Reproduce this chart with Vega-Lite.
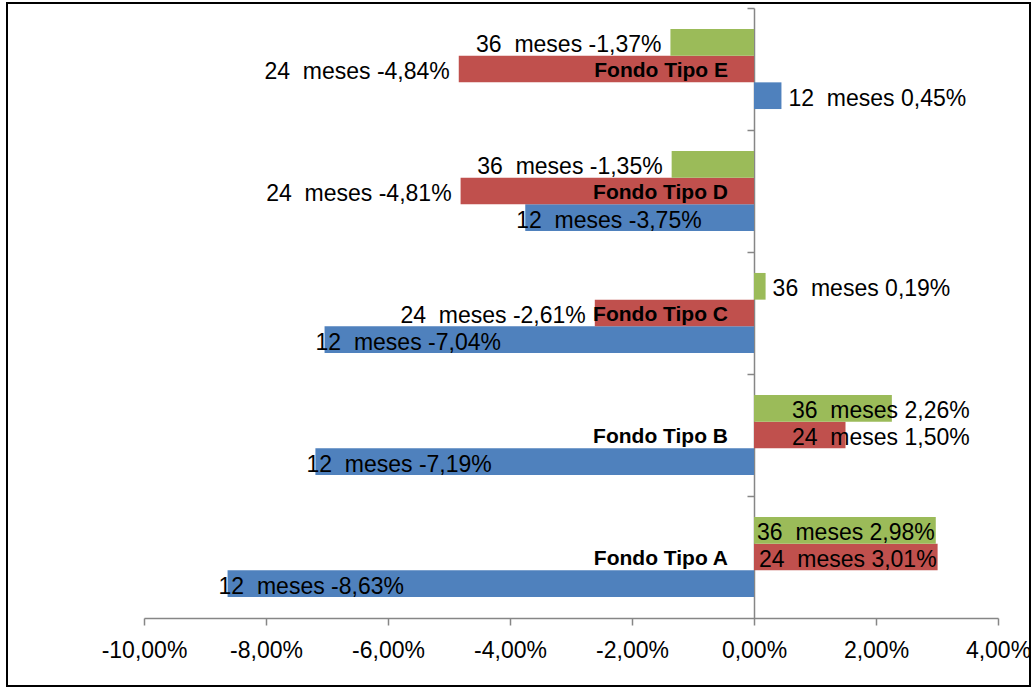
{
  "$schema": "https://vega.github.io/schema/vega-lite/v6.json",
  "width": 1023,
  "height": 683,
  "autosize": "none",
  "padding": {"left": 7, "top": 3, "right": 6, "bottom": 3},
  "background": "white",
  "config": {
    "locale": {"number": {"decimal": ",", "thousands": ".", "grouping": [3], "currency": ["", " €"], "minus": "-"}},
    "view": {"stroke": "#000000", "strokeWidth": 2},
    "font": "Liberation Sans"
  },
  "data": {
    "values": [
      {"fondo": "Fondo Tipo A", "serie": "12 meses", "valor": -0.0863, "etiqueta": "12\u00a0 meses -8,63%"},
      {"fondo": "Fondo Tipo A", "serie": "24 meses", "valor": 0.0301, "etiqueta": "24\u00a0 meses 3,01%"},
      {"fondo": "Fondo Tipo A", "serie": "36 meses", "valor": 0.0298, "etiqueta": "36\u00a0 meses 2,98%"},
      {"fondo": "Fondo Tipo B", "serie": "12 meses", "valor": -0.0719, "etiqueta": "12\u00a0 meses -7,19%"},
      {"fondo": "Fondo Tipo B", "serie": "24 meses", "valor": 0.0150, "etiqueta": "24\u00a0 meses 1,50%"},
      {"fondo": "Fondo Tipo B", "serie": "36 meses", "valor": 0.0226, "etiqueta": "36\u00a0 meses 2,26%"},
      {"fondo": "Fondo Tipo C", "serie": "12 meses", "valor": -0.0704, "etiqueta": "12\u00a0 meses -7,04%"},
      {"fondo": "Fondo Tipo C", "serie": "24 meses", "valor": -0.0261, "etiqueta": "24\u00a0 meses -2,61%"},
      {"fondo": "Fondo Tipo C", "serie": "36 meses", "valor": 0.0019, "etiqueta": "36\u00a0 meses 0,19%"},
      {"fondo": "Fondo Tipo D", "serie": "12 meses", "valor": -0.0375, "etiqueta": "12\u00a0 meses -3,75%"},
      {"fondo": "Fondo Tipo D", "serie": "24 meses", "valor": -0.0481, "etiqueta": "24\u00a0 meses -4,81%"},
      {"fondo": "Fondo Tipo D", "serie": "36 meses", "valor": -0.0135, "etiqueta": "36\u00a0 meses -1,35%"},
      {"fondo": "Fondo Tipo E", "serie": "12 meses", "valor": 0.0045, "etiqueta": "12\u00a0 meses 0,45%"},
      {"fondo": "Fondo Tipo E", "serie": "24 meses", "valor": -0.0484, "etiqueta": "24\u00a0 meses -4,84%"},
      {"fondo": "Fondo Tipo E", "serie": "36 meses", "valor": -0.0137, "etiqueta": "36\u00a0 meses -1,37%"}
    ]
  },
  "encoding": {
    "y": {
      "field": "fondo",
      "type": "nominal",
      "sort": ["Fondo Tipo E", "Fondo Tipo D", "Fondo Tipo C", "Fondo Tipo B", "Fondo Tipo A"],
      "scale": {"range": [5, 615], "paddingInner": 0, "paddingOuter": 0},
      "axis": {
        "title": null,
        "labels": false,
        "orient": "left",
        "offset": -747,
        "domainColor": "#868686",
        "domainWidth": 1.5,
        "tickColor": "#868686",
        "tickWidth": 1.5,
        "tickSize": 7,
        "bandPosition": 0
      }
    }
  },
  "layer": [
    {
      "mark": {"type": "bar"},
      "encoding": {
        "x": {
          "field": "valor",
          "type": "quantitative",
          "scale": {"domain": [-0.1, 0.04], "range": [137, 991], "nice": false, "zero": false},
          "axis": {
            "title": null,
            "orient": "bottom",
            "offset": -68,
            "values": [-0.1, -0.08, -0.06, -0.04, -0.02, 0, 0.02, 0.04],
            "format": ".2%",
            "grid": false,
            "labelFontSize": 23,
            "labelColor": "#000000",
            "labelFont": "Liberation Sans",
            "labelPadding": 14,
            "labelFlush": false,
            "labelOverlap": false,
            "domainColor": "#868686",
            "domainWidth": 1.5,
            "tickColor": "#868686",
            "tickWidth": 1.5,
            "tickSize": 7
          }
        },
        "yOffset": {
          "field": "serie",
          "type": "nominal",
          "sort": ["36 meses", "24 meses", "12 meses"],
          "scale": {"paddingInner": 0, "paddingOuter": 0.785}
        },
        "color": {
          "field": "serie",
          "type": "nominal",
          "scale": {"domain": ["12 meses", "24 meses", "36 meses"], "range": ["#4F81BD", "#C0504D", "#9BBB59"]},
          "legend": null
        }
      }
    },
    {
      "transform": [{"filter": "datum.valor < 0 && datum.serie == '12 meses'"}],
      "mark": {"type": "text", "align": "left", "baseline": "middle", "dx": -9, "dy": 3, "fontSize": 23, "color": "#000000"},
      "encoding": {
        "x": {"field": "valor", "type": "quantitative"},
        "yOffset": {"field": "serie", "type": "nominal", "sort": ["36 meses", "24 meses", "12 meses"]},
        "text": {"field": "etiqueta"}
      }
    },
    {
      "transform": [{"filter": "datum.valor < 0 && datum.serie != '12 meses'"}],
      "mark": {"type": "text", "align": "right", "baseline": "middle", "dx": -9, "dy": 3, "fontSize": 23, "color": "#000000"},
      "encoding": {
        "x": {"field": "valor", "type": "quantitative"},
        "yOffset": {"field": "serie", "type": "nominal", "sort": ["36 meses", "24 meses", "12 meses"]},
        "text": {"field": "etiqueta"}
      }
    },
    {
      "transform": [{"filter": "datum.valor > 0 && datum.valor <= 0.01"}],
      "mark": {"type": "text", "align": "left", "baseline": "middle", "dx": 7, "dy": 3, "fontSize": 23, "color": "#000000"},
      "encoding": {
        "x": {"field": "valor", "type": "quantitative"},
        "yOffset": {"field": "serie", "type": "nominal", "sort": ["36 meses", "24 meses", "12 meses"]},
        "text": {"field": "etiqueta"}
      }
    },
    {
      "transform": [{"filter": "datum.valor > 0.01 && datum.valor <= 0.025"}],
      "mark": {"type": "text", "align": "left", "baseline": "middle", "dx": 38, "dy": 3, "fontSize": 23, "color": "#000000"},
      "encoding": {
        "x": {"datum": 0, "type": "quantitative"},
        "yOffset": {"field": "serie", "type": "nominal", "sort": ["36 meses", "24 meses", "12 meses"]},
        "text": {"field": "etiqueta"}
      }
    },
    {
      "transform": [{"filter": "datum.valor > 0.025"}],
      "mark": {"type": "text", "align": "right", "baseline": "middle", "dx": -1, "dy": 3, "fontSize": 23, "color": "#000000"},
      "encoding": {
        "x": {"field": "valor", "type": "quantitative"},
        "yOffset": {"field": "serie", "type": "nominal", "sort": ["36 meses", "24 meses", "12 meses"]},
        "text": {"field": "etiqueta"}
      }
    },
    {
      "transform": [{"filter": "datum.serie == '24 meses'"}],
      "mark": {"type": "text", "align": "right", "baseline": "middle", "dx": -26, "dy": 2, "fontSize": 21, "fontWeight": "bold", "color": "#000000"},
      "encoding": {
        "x": {"datum": 0, "type": "quantitative"},
        "text": {"field": "fondo"}
      }
    }
  ]
}
